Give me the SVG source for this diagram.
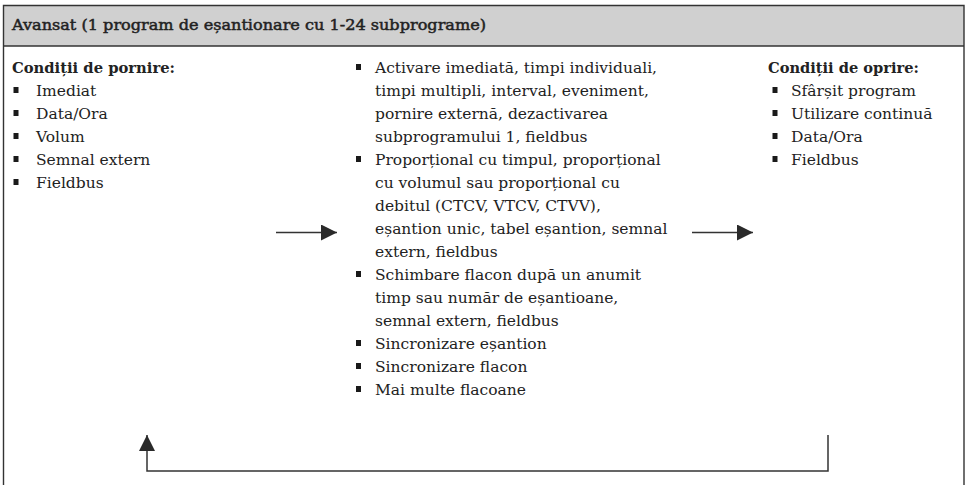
<svg xmlns="http://www.w3.org/2000/svg" width="967" height="485" viewBox="0 0 967 485">
<style>
text{font-family:"DejaVu Serif","Liberation Serif",serif;font-size:15.5px;fill:#222}
.b{font-weight:bold}
.h{stroke:#222;stroke-width:0.5}
.bul{fill:#1a1a1a}
.frame{fill:none;stroke:#333;stroke-width:1.4}
.con{fill:none;stroke:#333;stroke-width:1.5}
</style>
<defs>
<marker id="ah" markerUnits="userSpaceOnUse" markerWidth="16" markerHeight="16" refX="16" refY="8" orient="auto" viewBox="0 0 16 16">
<path d="M0,0 L16,8 L0,16 z" fill="#2a2a2a"/>
</marker>
</defs>
<g id="frame">
<rect x="3.5" y="5.5" width="960.5" height="40.5" fill="#d0d0d0"/>
<path class="frame" d="M3.5,490 V5.5 H964 V490"/>
<line class="frame" x1="3.5" y1="46" x2="964" y2="46"/>
</g>
<g id="header">
<text class="h" x="12" y="30" textLength="474" lengthAdjust="spacingAndGlyphs">Avansat (1 program de eșantionare cu 1-24 subprograme)</text>
</g>
<g id="start-conditions">
<text class="b" x="12" y="73" textLength="163" lengthAdjust="spacingAndGlyphs">Condiții de pornire:</text>
<rect class="bul" x="13.5" y="87" width="5" height="6"/><text x="36" y="96">Imediat</text>
<rect class="bul" x="13.5" y="110" width="5" height="6"/><text x="36" y="119">Data/Ora</text>
<rect class="bul" x="13.5" y="133" width="5" height="6"/><text x="36" y="142">Volum</text>
<rect class="bul" x="13.5" y="156" width="5" height="6"/><text x="36" y="165">Semnal extern</text>
<rect class="bul" x="13.5" y="179" width="5" height="6"/><text x="36" y="188">Fieldbus</text>
</g>
<g id="program">
<rect class="bul" x="356" y="64" width="5" height="6"/>
<text x="375" y="73">Activare imediată, timpi individuali,</text>
<text x="375" y="96">timpi multipli, interval, eveniment,</text>
<text x="375" y="119">pornire externă, dezactivarea</text>
<text x="375" y="142">subprogramului 1, fieldbus</text>
<rect class="bul" x="356" y="156" width="5" height="6"/>
<text x="375" y="165">Proporțional cu timpul, proporțional</text>
<text x="375" y="188">cu volumul sau proporțional cu</text>
<text x="375" y="211">debitul (CTCV, VTCV, CTVV),</text>
<text x="375" y="234">eșantion unic, tabel eșantion, semnal</text>
<text x="375" y="257">extern, fieldbus</text>
<rect class="bul" x="356" y="271" width="5" height="6"/>
<text x="375" y="280">Schimbare flacon după un anumit</text>
<text x="375" y="303">timp sau număr de eșantioane,</text>
<text x="375" y="326">semnal extern, fieldbus</text>
<rect class="bul" x="356" y="340" width="5" height="6"/>
<text x="375" y="349">Sincronizare eșantion</text>
<rect class="bul" x="356" y="363" width="5" height="6"/>
<text x="375" y="372">Sincronizare flacon</text>
<rect class="bul" x="356" y="386" width="5" height="6"/>
<text x="375" y="395">Mai multe flacoane</text>
</g>
<g id="stop-conditions">
<text class="b" x="768" y="73" textLength="151" lengthAdjust="spacingAndGlyphs">Condiții de oprire:</text>
<rect class="bul" x="772.5" y="87" width="5" height="6"/><text x="791" y="96">Sfârșit program</text>
<rect class="bul" x="772.5" y="110" width="5" height="6"/><text x="791" y="119">Utilizare continuă</text>
<rect class="bul" x="772.5" y="133" width="5" height="6"/><text x="791" y="142">Data/Ora</text>
<rect class="bul" x="772.5" y="156" width="5" height="6"/><text x="791" y="165">Fieldbus</text>
</g>
<g id="connectors">
<line class="con" x1="276" y1="232.5" x2="337" y2="232.5" marker-end="url(#ah)"/>
<line class="con" x1="692" y1="232.5" x2="753" y2="232.5" marker-end="url(#ah)"/>
<path class="con" d="M828,435 V471 H147 V435" marker-end="url(#ah)"/>
</g>
</svg>
